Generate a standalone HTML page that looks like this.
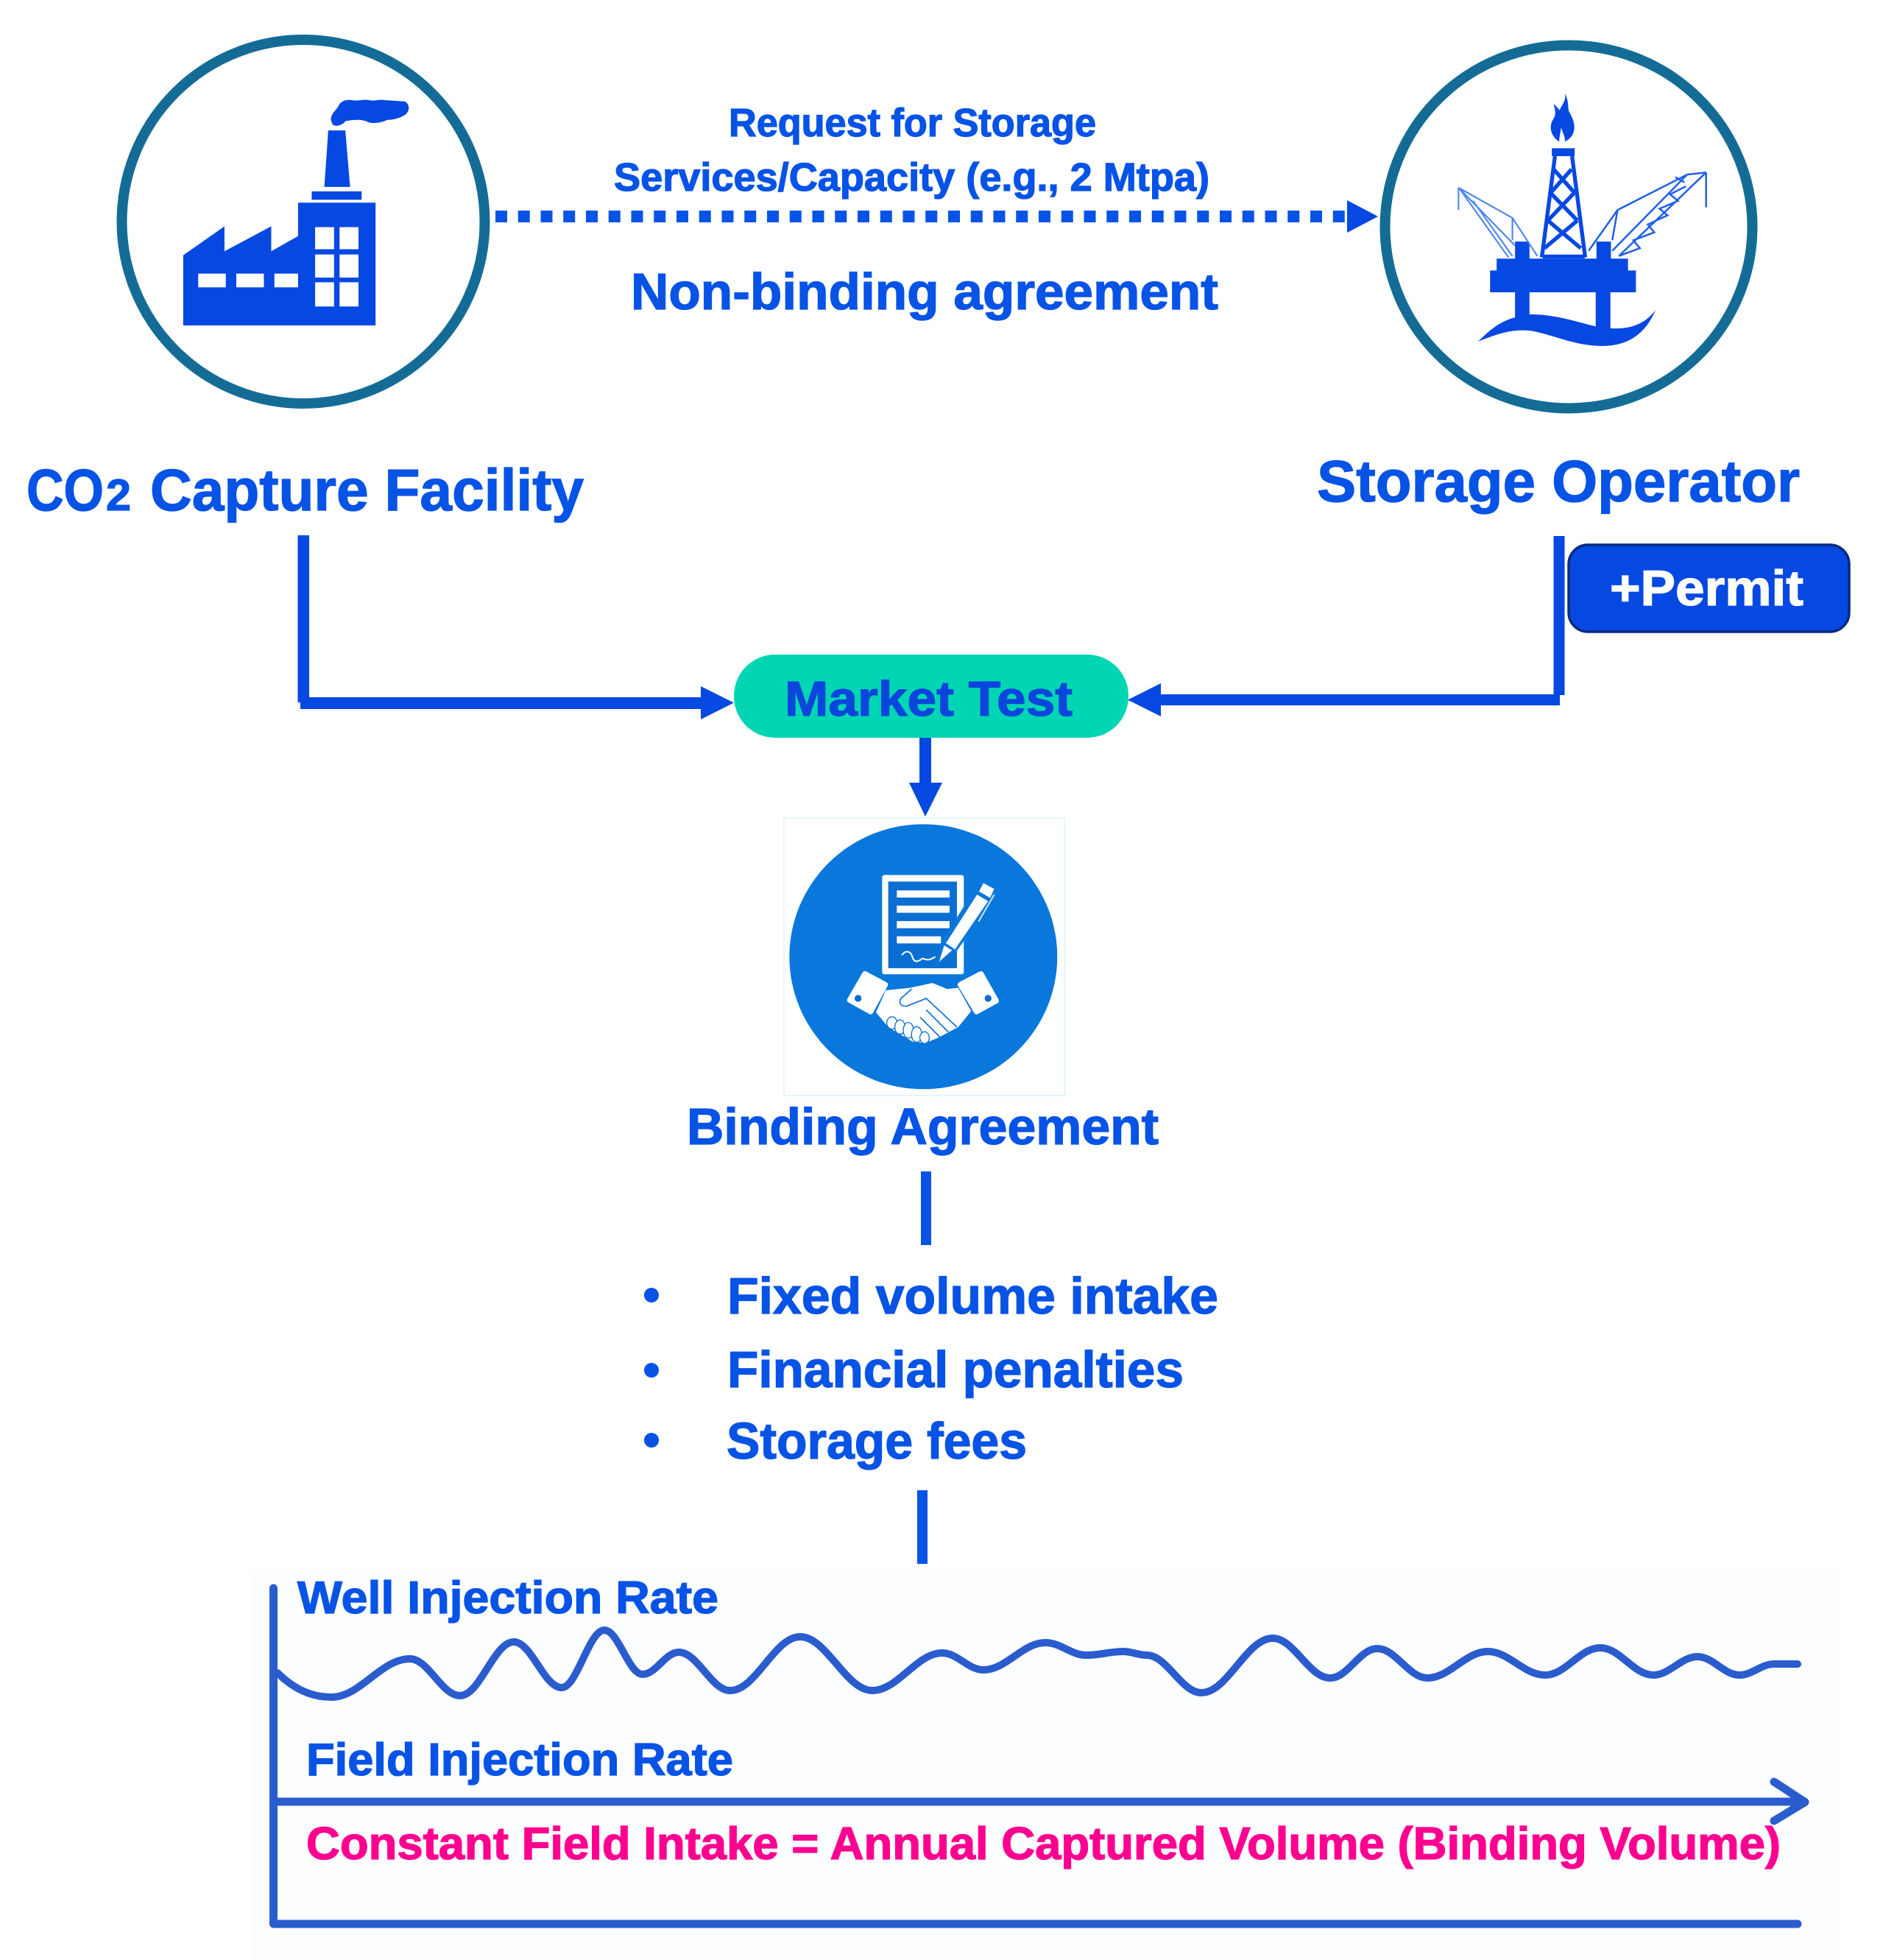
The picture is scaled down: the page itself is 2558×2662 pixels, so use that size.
<!DOCTYPE html>
<html lang="en"><head><meta charset="utf-8"><title>CO2 storage agreement diagram</title>
<style>
html,body{margin:0;padding:0;background:#fff}
svg{display:block}
text{font-family:"Liberation Sans",sans-serif;font-weight:700;fill:#0653e6;stroke:#0653e6;stroke-width:1.300px}
</style></head><body>
<svg xmlns="http://www.w3.org/2000/svg" width="2558" height="2662" viewBox="0 0 2558 2662">
<rect width="2558" height="2662" fill="#fff"/>
<rect x="340" y="2132" width="2160" height="530" fill="#fcfdff"/>

<!-- Capture facility -->
<ellipse cx="412" cy="301" rx="246.500" ry="247" fill="#fff" stroke="#146c96" stroke-width="14"/>
<g transform="translate(130 20) scale(.357)" fill="#0648e2">
<path fill-rule="evenodd" d="M333 1182V915L490 805V900L668 805V900L770 842V715H1065V1182ZM390 985V1037H495V985ZM535 985V1037H640V985ZM680 985V1037H770V985ZM835 808V892H907V808ZM928 808V892H1000V808ZM835 912V1000H907V912ZM928 912V1000H1000V912ZM835 1018V1110H907V1018ZM928 1018V1110H1000V1018Z"/>
<path d="M885 440H950L968 655H870Z"/><rect x="822" y="672" width="190" height="32"/>
<path d="M895 400C895 375 915 365 925 345C935 325 960 322 975 325C1000 330 1020 320 1040 325C1060 330 1080 320 1100 325L1175 330C1200 340 1195 375 1170 385C1150 395 1130 400 1110 400C1090 410 1060 415 1040 410C1010 395 980 400 950 405C940 420 910 430 900 415Z"/>
</g>

<!-- Storage operator -->
<ellipse cx="2131" cy="308" rx="249.500" ry="246.500" fill="#fff" stroke="#146c96" stroke-width="14"/>
<g transform="translate(1860 30) scale(.357)">
<g fill="#0648e2">
<path d="M745 272C760 300 755 320 760 340C785 380 790 420 760 445L745 455C745 430 735 420 730 400C728 430 720 445 725 455C695 440 680 400 700 370C715 350 705 330 702 310C715 325 720 330 725 335C735 310 750 300 745 272Z"/>
<rect x="695" y="480" width="87" height="30"/>
<path d="M485 900H985V945H1015V1028H460V945H485Z"/>
<rect x="555" y="1020" width="55" height="110"/><rect x="862" y="1020" width="56" height="150"/>
<rect x="555" y="835" width="55" height="70"/><rect x="865" y="835" width="55" height="70"/>
<path d="M415 1215C480 1150 520 1125 610 1112C700 1110 790 1140 862 1158L918 1165C990 1170 1050 1150 1090 1095C1050 1190 980 1235 880 1232C780 1230 700 1190 620 1175C540 1165 480 1190 415 1215Z"/>
</g>
<g fill="none" stroke="#0648e2" stroke-width="15">
<path d="M707 510L657 895M772 510L822 895M660 892H820"/>
<path d="M702 560L782 650M770 560L690 650M690 650L792 755M780 650L680 755M680 755L805 860M792 755L667 860"/>
</g>
<g fill="none" stroke="#4f86f0" stroke-width="6">
<path d="M340 630V715M340 630L545 745L640 890M345 635L530 895M345 635L555 850M545 745V830M395 680L545 890"/>
</g>
<g fill="none" stroke="#1f5fea" stroke-width="7">
<path d="M1282 572V705M1282 572L1210 580L945 715L835 870M945 715L925 830M1282 572L950 890M1210 580L925 870M1200 610L1165 590M1205 625L1145 655L1175 680L1105 710L1135 735L1060 770L1085 800L1005 830L1030 860L950 890"/>
</g>
</g>

<!-- Top labels and dotted arrow -->
<text x="990" y="185" font-size="54" textLength="499" lengthAdjust="spacingAndGlyphs">Request for Storage</text>
<text x="834" y="259" font-size="54" textLength="809" lengthAdjust="spacingAndGlyphs">Services/Capacity (e.g., 2 Mtpa)</text>
<line x1="673" y1="294" x2="1830" y2="294" stroke="#0653e6" stroke-width="16" stroke-dasharray="16 14.750"/>
<path d="M1830 272L1872 294L1830 316Z" fill="#0648e2"/>
<text x="857" y="420" font-size="70" textLength="798" lengthAdjust="spacingAndGlyphs">Non-binding agreement</text>

<text x="36" y="693" font-size="80" textLength="105" lengthAdjust="spacingAndGlyphs">CO</text>
<text x="144" y="693" font-size="60" textLength="34" lengthAdjust="spacingAndGlyphs">2</text>
<text x="204" y="693" font-size="80" textLength="589" lengthAdjust="spacingAndGlyphs">Capture Facility</text>
<text x="1789" y="681" font-size="80" textLength="656" lengthAdjust="spacingAndGlyphs">Storage Operator</text>

<!-- Connectors -->
<g fill="#0648e2">
<rect x="404.500" y="727" width="15.500" height="227"/>
<rect x="408" y="947" width="546" height="16"/>
<path d="M952 932L997 954.500L952 977Z"/>
<rect x="2110.500" y="728" width="15" height="216"/>
<rect x="1574" y="943" width="545" height="15"/>
<path d="M1577 928L1532 950.500L1577 973Z"/>
<rect x="1249" y="1000" width="16" height="65"/>
<path d="M1235 1063H1280L1257 1109Z"/>
</g>

<rect x="2131" y="740" width="381" height="118" rx="26" fill="#0648e2" stroke="#0a2a80" stroke-width="3.500"/>
<text x="2187" y="822" font-size="68" textLength="263" lengthAdjust="spacingAndGlyphs" style="fill:#fff;stroke:#fff">+Permit</text>

<rect x="997" y="889" width="536" height="113" rx="56" ry="56" fill="#00d6b3"/>
<text x="1066" y="972" font-size="67" textLength="391" lengthAdjust="spacingAndGlyphs" style="fill:#0a46dc;stroke:#0a46dc">Market Test</text>

<!-- Binding agreement icon -->
<rect x="1065" y="1111" width="381" height="377" fill="#fff" stroke="#e2f7fd" stroke-width="2"/>
<g transform="translate(1040 1100) scale(.3333)">
<ellipse cx="643" cy="598" rx="546" ry="540" fill="#0a77dc"/>
<rect x="475" y="265" width="333" height="405" rx="10" fill="#fff"/>
<rect x="500" y="292" width="280" height="353" fill="#0a6fd2"/>
<g fill="#fff">
<rect x="535" y="328" width="215" height="29"/><rect x="535" y="390" width="215" height="29"/>
<rect x="535" y="453" width="215" height="29"/><rect x="535" y="515" width="180" height="29"/>
</g>
<path d="M556 592C570 570 590 575 597 595C605 625 620 620 640 605C660 615 675 610 692 598" fill="none" stroke="#fff" stroke-width="6"/>
<path d="M705 620L722 548L868 315L893 290L935 322L925 355L775 565Z" fill="#0a77dc" stroke="#0a77dc" stroke-width="18"/>
<path d="M708 618L728 552L760 572Z" fill="#fff"/>
<path d="M735 543L862 345L907 372L772 568Z" fill="#fff"/>
<path d="M870 332L888 298L932 322L915 358Z" fill="#fff"/>
<path d="M932 345L868 455" stroke="#cfe8fb" stroke-width="6" fill="none"/>
<path d="M405 668L488 712L428 822L343 775Z" fill="#fff" stroke="#fff" stroke-width="22" stroke-linejoin="round"/>
<path d="M794 712L878 668L940 778L860 822Z" fill="#fff" stroke="#fff" stroke-width="22" stroke-linejoin="round"/>
<circle cx="377" cy="768" r="14" fill="#0a6fd2"/><circle cx="907" cy="768" r="14" fill="#0a6fd2"/>
<path d="M490 735L590 725L680 705L740 730L785 725L838 820L785 885L700 930L650 950L600 945L500 885L450 825Z" fill="#fff"/>
<path d="M595 730L550 770Q540 800 575 800L655 768L780 885" fill="none" stroke="#0a6fd2" stroke-width="5"/>
<path d="M655 815L745 905M630 845L710 925" fill="none" stroke="#0a6fd2" stroke-width="5"/>
<g fill="#fff" stroke="#0a6fd2" stroke-width="4">
<ellipse cx="515" cy="868" rx="21" ry="25"/><ellipse cx="548" cy="885" rx="21" ry="29"/><ellipse cx="582" cy="898" rx="21" ry="32"/><ellipse cx="616" cy="915" rx="21" ry="32"/><ellipse cx="648" cy="928" rx="19" ry="24"/>
</g>
</g>

<text x="933" y="1554" font-size="70" textLength="641" lengthAdjust="spacingAndGlyphs">Binding Agreement</text>
<rect x="1251" y="1591" width="14" height="100" fill="#0653e6"/>

<g fill="#0653e6"><circle cx="885" cy="1759" r="10"/><circle cx="885" cy="1861" r="10"/><circle cx="885" cy="1956" r="10"/></g>
<text x="988" y="1784" font-size="70" textLength="667" lengthAdjust="spacingAndGlyphs">Fixed volume intake</text>
<text x="988" y="1884" font-size="70" textLength="620" lengthAdjust="spacingAndGlyphs">Financial penalties</text>
<text x="987" y="1981" font-size="70" textLength="408" lengthAdjust="spacingAndGlyphs">Storage fees</text>
<rect x="1246" y="2024" width="14" height="100" fill="#0653e6"/>

<!-- Chart -->
<text x="404" y="2191" font-size="62" textLength="572" lengthAdjust="spacingAndGlyphs">Well Injection Rate</text>
<text x="416" y="2411" font-size="62" textLength="580" lengthAdjust="spacingAndGlyphs">Field Injection Rate</text>
<text x="416" y="2525" font-size="62" textLength="2003" lengthAdjust="spacingAndGlyphs" style="fill:#fe0090;stroke:#fe0090">Constant Field Intake = Annual Captured Volume (Binding Volume)</text>
<g fill="none" stroke="#2a5cce" stroke-width="11" stroke-linecap="round" stroke-linejoin="round">
<path d="M371.500 2157V2613H2442"/>
<path d="M372 2447H2450M2410 2420L2452 2447.500L2410 2473"/>
<path stroke-width="10" d="M377 2272C400 2295 425 2305 450 2305C490 2305 517 2253 557 2253C582 2253 600 2303 625 2303C652 2303 671 2230 698 2230C722 2230 739 2292 763 2292C784 2292 800 2214 821 2214C840 2214 854 2274 873 2274C891 2274 904 2244 922 2244C948 2244 966 2296 992 2296C1027 2296 1052 2223 1087 2223C1123 2223 1149 2296 1185 2296C1220 2296 1245 2245 1280 2245C1301 2245 1315 2268 1336 2268C1367 2268 1389 2231 1420 2231C1441 2231 1455 2248 1476 2248C1494 2248 1508 2243 1526 2243C1538 2243 1546 2248 1558 2248C1585 2248 1605 2299 1632 2299C1668 2299 1693 2225 1729 2225C1758 2225 1778 2279 1807 2279C1831 2279 1847 2239 1871 2239C1896 2239 1914 2279 1939 2279C1969 2279 1991 2243 2021 2243C2050 2243 2070 2275 2099 2275C2127 2275 2146 2238 2174 2238C2201 2238 2219 2275 2246 2275C2268 2275 2284 2250 2306 2250C2327 2250 2342 2275 2363 2275C2380 2275 2393 2260 2410 2260L2442 2260"/>
</g>
</svg>
</body></html>
